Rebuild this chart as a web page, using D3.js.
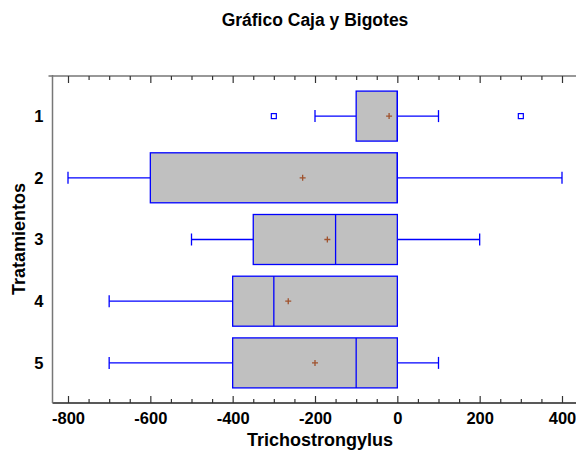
<!DOCTYPE html>
<meta charset="utf-8">
<style>
    body { margin: 0; background: #fff; }
    text { font-family: "Liberation Sans", Arial, sans-serif; font-weight: bold; fill: #000; }
</style>
<svg width="576" height="450"></svg>
<script src="https://d3js.org/d3.v7.min.js"></script>
<script>
    // values
    var treatments = ["1", "2", "3", "4", "5"];
    var q1 = [-100, -600, -350, -400, -400];
    var medians = [0, 0, -150, -300, -100];
    var q3 = [0, 0, 0, 0, 0];
    var whiskerLow = [-200, -800, -500, -700, -700];
    var whiskerHigh = [100, 400, 200, 0, 100];
    var means = [-20, -230, -170, -265, -200];
    var outliers = [[-300, 300], [], [], [], []];
    var xTicks = [-800, -600, -400, -200, 0, 200, 400];
    var xMinorTicks = d3.range(-850, 451, 50).filter(v => xTicks.indexOf(v) < 0);

    var svg = d3.select("svg");
    var plotLeft = 52.5, plotRight = 576, plotTop = 76, plotBottom = 403;

    var x = d3.scaleLinear().domain([-800, 400]).range([68, 562]);
    var y = d3.scalePoint().domain(treatments).range([plotTop, plotBottom]).padding(0.65);
    var boxH = 50, capH = 12;

    var boxes = treatments.map(function (t, i) {
        return {t: t, q1: q1[i], med: medians[i], q3: q3[i], lo: whiskerLow[i], hi: whiskerHigh[i], mean: means[i], out: outliers[i]};
    });

    // title
    svg.append("text")
        .attr("x", 315).attr("y", 26)
        .attr("text-anchor", "middle")
        .style("font-size", "17.5px")
        .text("Gráfico Caja y Bigotes");

    // frame lines
    svg.append("line").attr("x1", plotLeft - 4).attr("x2", plotRight).attr("y1", plotTop).attr("y2", plotTop)
        .attr("stroke", "#333").attr("stroke-width", 1.2);
    svg.append("line").attr("x1", plotLeft).attr("x2", plotRight).attr("y1", plotBottom).attr("y2", plotBottom)
        .attr("stroke", "#222").attr("stroke-width", 1.5);
    svg.append("line").attr("x1", plotLeft).attr("x2", plotLeft).attr("y1", plotTop - 1).attr("y2", plotBottom)
        .attr("stroke", "#777").attr("stroke-width", 1.5);

    var xGroups = svg.append("g");

    // bottom axis, ticks pointing inwards
    var xAxis = xGroups.append("g")
        .attr("transform", `translate(0,${plotBottom})`)
        .call(d3.axisBottom(x).tickValues(xTicks).tickSize(-7).tickPadding(9).tickFormat(d => String(d)));
    xAxis.selectAll("text").style("font-size", "16.5px").attr("font-family", null).attr("fill", "#000");

    xGroups.append("g")
        .attr("transform", `translate(0,${plotBottom})`)
        .call(d3.axisBottom(x).tickValues(xMinorTicks).tickSize(-4).tickFormat(""));

    // top axis
    xGroups.append("g")
        .attr("transform", `translate(0,${plotTop})`)
        .call(d3.axisTop(x).tickValues(xTicks).tickSize(-7).tickFormat(""));
    xGroups.append("g")
        .attr("transform", `translate(0,${plotTop})`)
        .call(d3.axisTop(x).tickValues(xMinorTicks).tickSize(-4).tickFormat(""));

    xGroups.selectAll(".domain").remove();
    xGroups.selectAll("line").attr("stroke", "#333").attr("stroke-width", 1.2);
    xGroups.selectAll(".tick").filter(d => x(d) < plotLeft || x(d) > plotRight).remove();

    // y labels
    var yAxis = svg.append("g")
        .attr("transform", `translate(${plotLeft},0)`)
        .call(d3.axisLeft(y).tickSize(0).tickPadding(9));
    yAxis.select(".domain").remove();
    yAxis.selectAll("text").style("font-size", "16.5px").attr("font-family", null).attr("fill", "#000");

    // axis titles
    svg.append("text")
        .attr("x", 320).attr("y", 446)
        .attr("text-anchor", "middle")
        .style("font-size", "18px")
        .text("Trichostrongylus");

    svg.append("text")
        .attr("transform", "translate(25,239) rotate(-90)")
        .attr("text-anchor", "middle")
        .style("font-size", "18px")
        .text("Tratamientos");

    // boxes
    var bx = svg.append("g").selectAll("g.box").data(boxes).enter().append("g").attr("class", "box");

    bx.append("line")
        .attr("x1", d => x(d.lo)).attr("x2", d => x(d.q1))
        .attr("y1", d => y(d.t)).attr("y2", d => y(d.t));
    bx.append("line")
        .attr("x1", d => x(d.q3)).attr("x2", d => x(d.hi))
        .attr("y1", d => y(d.t)).attr("y2", d => y(d.t));
    bx.append("line")
        .attr("x1", d => x(d.lo)).attr("x2", d => x(d.lo))
        .attr("y1", d => y(d.t) - capH / 2).attr("y2", d => y(d.t) + capH / 2);
    bx.append("line")
        .attr("x1", d => x(d.hi)).attr("x2", d => x(d.hi))
        .attr("y1", d => y(d.t) - capH / 2).attr("y2", d => y(d.t) + capH / 2);

    bx.append("rect")
        .attr("x", d => x(d.q1))
        .attr("width", d => x(d.q3) - x(d.q1))
        .attr("y", d => y(d.t) - boxH / 2)
        .attr("height", boxH)
        .attr("fill", "#c0c0c0");

    bx.append("line")
        .attr("x1", d => x(d.med)).attr("x2", d => x(d.med))
        .attr("y1", d => y(d.t) - boxH / 2).attr("y2", d => y(d.t) + boxH / 2);

    bx.selectAll("line, rect").attr("stroke", "#0000ff").attr("stroke-width", 1.3);

    // mean markers
    bx.append("path")
        .attr("d", d => `M${x(d.mean) - 3},${y(d.t)}h6M${x(d.mean)},${y(d.t) - 3}v6`)
        .attr("stroke", "#a0522d").attr("stroke-width", 1.3).attr("fill", "none");

    // outliers
    bx.selectAll("rect.out").data(d => d.out.map(v => ({v: v, t: d.t}))).enter()
        .append("rect").attr("class", "out")
        .attr("x", d => x(d.v) - 2.5).attr("y", d => y(d.t) - 2.5)
        .attr("width", 5).attr("height", 5)
        .attr("fill", "#fff").attr("stroke", "#0000ff").attr("stroke-width", 1.2);
</script>
